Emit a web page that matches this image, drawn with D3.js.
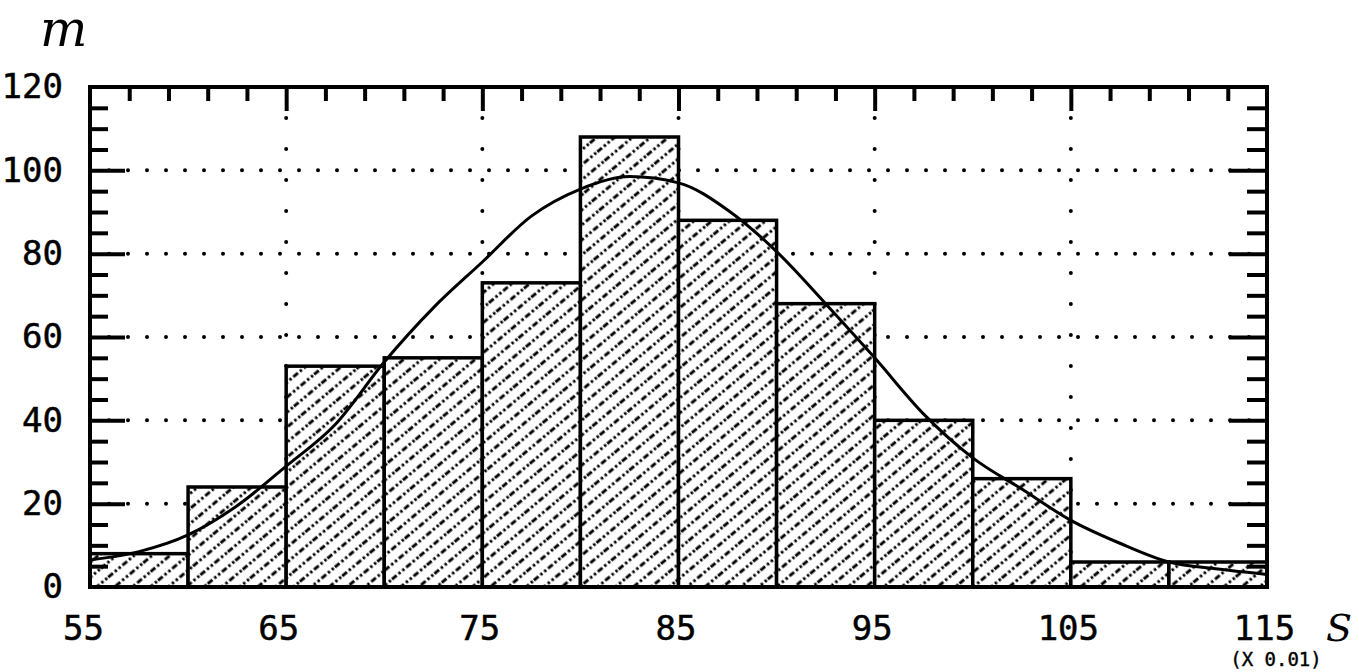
<!DOCTYPE html>
<html>
<head>
<meta charset="utf-8">
<script src="https://cdn.jsdelivr.net/npm/d3@7"></script>
<style>
  body { margin: 0; background: #fff; }
  svg text { fill: #000; }
</style>
</head>
<body>
<svg id="chart"></svg>
<script>
// Histogram bins (S x 0.01) and counts
const binStarts = [55, 60, 65, 70, 75, 80, 85, 90, 95, 100, 105, 110];
const binWidth = 5;
const counts = [8, 24, 53, 55, 73, 108, 88, 68, 40, 26, 6, 6];

// Fitted curve
const curveX = [55, 57.5, 60, 62.5, 65, 67.5, 70, 72.5, 75, 77.5, 80, 82.5, 85, 87.5, 90, 92.5, 95, 97.5, 100, 102.5, 105, 107.5, 110, 112.5, 115];
const curveY = [6.5, 8.5, 12.5, 19.5, 29, 39, 54, 67, 78, 89, 95.5, 98.5, 97, 90.5, 80.5, 68, 55, 41.5, 31, 23.5, 16, 10.5, 6, 4.3, 3];

// Tick labels
const xLabels = [55, 65, 75, 85, 95, 105, 115];
const yLabels = [0, 20, 40, 60, 80, 100, 120];

const W = 1359, H = 672;
const margin = { top: 87, right: 92, bottom: 85, left: 90 };

const svg = d3.select("#chart")
    .attr("width", W)
    .attr("height", H);

const x = d3.scaleLinear().domain([55, 115]).range([margin.left, W - margin.right]);
const y = d3.scaleLinear().domain([0, 120]).range([H - margin.bottom, margin.top]);

// hatch pattern
const defs = svg.append("defs");
const pat = defs.append("pattern")
    .attr("id", "hatch")
    .attr("patternUnits", "userSpaceOnUse")
    .attr("width", 36)
    .attr("height", 11.5)
    .attr("patternTransform", "rotate(-40)");
pat.append("rect").attr("width", 36).attr("height", 11.5).attr("fill", "#fff");
pat.append("line")
    .attr("x1", 0).attr("x2", 36)
    .attr("y1", 5.75).attr("y2", 5.75)
    .attr("stroke", "#000")
    .attr("stroke-width", 3)
    .attr("stroke-dasharray", "6,2.5,2.5,2.5,2.5,2.5");

const mono = "'DejaVu Sans Mono', monospace";

// dotted grid
svg.append("g")
    .selectAll("line")
    .data(yLabels.filter(d => d > 0 && d < 120))
    .join("line")
    .attr("x1", x(55)).attr("x2", x(115))
    .attr("y1", d => y(d)).attr("y2", d => y(d))
    .attr("stroke", "#000")
    .attr("stroke-width", 4)
    .attr("stroke-linecap", "round")
    .attr("stroke-dasharray", "0,19");

svg.append("g")
    .selectAll("line")
    .data(xLabels.filter(d => d > 55 && d < 115))
    .join("line")
    .attr("x1", d => x(d)).attr("x2", d => x(d))
    .attr("y1", y(120)).attr("y2", y(0))
    .attr("stroke", "#000")
    .attr("stroke-width", 4)
    .attr("stroke-linecap", "round")
    .attr("stroke-dasharray", "0,31");

// bars
svg.append("g")
    .selectAll("rect")
    .data(binStarts)
    .join("rect")
    .attr("x", d => x(d))
    .attr("width", d => x(d + binWidth) - x(d))
    .attr("y", (d, i) => y(counts[i]))
    .attr("height", (d, i) => y(0) - y(counts[i]))
    .attr("fill", "url(#hatch)")
    .attr("stroke", "#000")
    .attr("stroke-width", 3.5);

// fitted curve
const line = d3.line()
    .x(d => x(d[0]))
    .y(d => y(d[1]))
    .curve(d3.curveMonotoneX);

svg.append("path")
    .datum(curveX.map((v, i) => [v, curveY[i]]))
    .attr("d", line)
    .attr("fill", "none")
    .attr("stroke", "#000")
    .attr("stroke-width", 3);

// frame
svg.append("rect")
    .attr("x", x(55)).attr("y", y(120))
    .attr("width", x(115) - x(55))
    .attr("height", y(0) - y(120))
    .attr("fill", "none")
    .attr("stroke", "#000")
    .attr("stroke-width", 4);

// tick marks (inward)
function styleTicks(g) {
    g.select(".domain").remove();
    g.selectAll(".tick line").attr("stroke", "#000").attr("stroke-width", 4);
}

const topMinor = d3.range(57, 115, 2).filter(d => (d - 55) % 10 !== 0);
const topMajor = d3.range(65, 115, 10);
svg.append("g").attr("transform", `translate(0,${y(120)})`)
    .call(d3.axisTop(x).tickValues(topMinor).tickSize(-14).tickFormat(""))
    .call(styleTicks);
svg.append("g").attr("transform", `translate(0,${y(120)})`)
    .call(d3.axisTop(x).tickValues(topMajor).tickSize(-24).tickFormat(""))
    .call(styleTicks);

const yMinor = d3.range(5, 120, 5).filter(d => d % 20 !== 0);
const yMajor = d3.range(20, 120, 20);
svg.append("g").attr("transform", `translate(${x(55)},0)`)
    .call(d3.axisLeft(y).tickValues(yMinor).tickSize(-18).tickFormat(""))
    .call(styleTicks);
svg.append("g").attr("transform", `translate(${x(55)},0)`)
    .call(d3.axisLeft(y).tickValues(yMajor).tickSize(-35).tickFormat(""))
    .call(styleTicks);
svg.append("g").attr("transform", `translate(${x(115)},0)`)
    .call(d3.axisRight(y).tickValues(yMinor).tickSize(-20).tickFormat(""))
    .call(styleTicks);
svg.append("g").attr("transform", `translate(${x(115)},0)`)
    .call(d3.axisRight(y).tickValues(yMajor).tickSize(-38).tickFormat(""))
    .call(styleTicks);

// tick labels
const yAxis = svg.append("g").attr("transform", `translate(${x(55)},0)`)
    .call(d3.axisLeft(y).tickValues(yLabels).tickSize(0).tickPadding(27).tickFormat(d3.format("d")));
yAxis.select(".domain").remove();
yAxis.selectAll("text").attr("font-family", mono).attr("font-size", 34).attr("fill", "#000")
    .attr("stroke", "#000").attr("stroke-width", 0.5);

const xAxis = svg.append("g").attr("transform", `translate(0,${y(0)})`)
    .call(d3.axisBottom(x).tickValues(xLabels).tickSize(0).tickPadding(29).tickFormat(d3.format("d")));
xAxis.select(".domain").remove();
xAxis.selectAll("text").attr("font-family", mono).attr("font-size", 34).attr("fill", "#000")
    .attr("stroke", "#000").attr("stroke-width", 0.5)
    .attr("dx", d => d === 55 ? -7 : (d === 65 ? -8 : -3));

// axis titles
svg.append("text")
    .attr("x", 40).attr("y", 46)
    .attr("font-family", "'DejaVu Serif', serif")
    .attr("font-style", "italic")
    .attr("font-size", 50)
    .text("m");

svg.append("text")
    .attr("x", 1326).attr("y", 641)
    .attr("font-family", "'DejaVu Serif', serif")
    .attr("font-style", "italic")
    .attr("font-size", 38)
    .text("S");

svg.append("text")
    .attr("x", 1276).attr("y", 666)
    .attr("text-anchor", "middle")
    .attr("font-family", mono)
    .attr("font-size", 19)
    .attr("stroke", "#000").attr("stroke-width", 0.4)
    .text("(X 0.01)");
</script>
</body>
</html>
